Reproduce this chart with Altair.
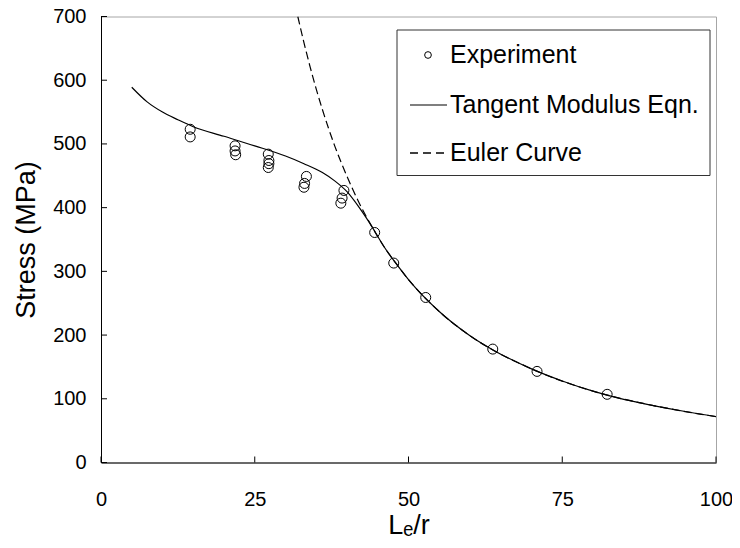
import altair as alt
import pandas as pd

# ---- data ----
exp_x = [14.5, 14.5, 21.8, 21.8, 21.9, 27.2, 27.3, 27.3, 27.2, 33.4, 33.1, 33.0,
         39.5, 39.2, 39.0, 44.5, 47.6, 52.8, 63.7, 70.9, 82.3]
exp_y = [523, 511, 497, 489, 483, 484, 474, 469, 463, 449, 438, 432,
         427, 415, 407, 361, 313, 259, 178, 143, 107]

tan_x = [5, 7.5, 10, 12.5, 15, 20, 25, 30, 33, 36, 38, 40, 42, 44, 46, 48, 50,
         55, 60, 65, 70, 75, 80, 85, 90, 95, 100]
tan_y = [589, 566, 550, 538, 527, 512, 497, 481, 469, 455, 442, 425, 400, 371,
         339, 312, 287, 237, 199, 170, 147, 128, 112, 99, 89, 80, 72]

eul_x = [32, 33, 34, 35, 36, 38, 40, 42, 44, 46, 48, 50, 55, 60, 70, 80, 90, 100]
eul_y = [700, 659, 621, 586, 554, 497, 449, 407, 371, 339, 312, 287, 237, 199,
         147, 112, 89, 72]

x_ticks = [0, 25, 50, 75, 100]
y_ticks = [0, 100, 200, 300, 400, 500, 600, 700]
legend_labels = ["Experiment", "Tangent Modulus Eqn.", "Euler Curve"]

W, H = 615, 446
FONT = "Liberation Sans"

xs = alt.Scale(domain=[0, 100], nice=False, zero=False)
ys = alt.Scale(domain=[0, 700], nice=False)

exp_df = pd.DataFrame({"x": exp_x, "y": exp_y})
tan_df = pd.DataFrame({"x": tan_x, "y": tan_y})
eul_df = pd.DataFrame({"x": eul_x, "y": eul_y})

x_axis = alt.Axis(values=x_ticks, ticks=False, grid=False, domainColor="black",
                  domainWidth=1, labelFont=FONT, labelFontSize=20, labelColor="black",
                  labelPadding=27, labelFlush=False, labelOverlap=False,
                  title="Lₑ/r", titleFont=FONT, titleFontSize=27,
                  titleFontWeight="normal", titleColor="black",
                  titleBaseline="alphabetic", titleY=71)
y_axis = alt.Axis(values=y_ticks, ticks=False, grid=False, domainColor="black",
                  domainWidth=1, labelFont=FONT, labelFontSize=20, labelColor="black",
                  labelPadding=15, labelFlush=False, labelOverlap=False,
                  title="Stress (MPa)", titleFont=FONT,
                  titleFontSize=27, titleFontWeight="normal", titleColor="black",
                  titleBaseline="middle", titleX=-75, titleY=H / 2, titleAngle=-90)

tangent = alt.Chart(tan_df).mark_line(color="black", strokeWidth=1.2,
                                      interpolate="monotone", clip=True).encode(
    x=alt.X("x:Q", scale=xs, axis=x_axis),
    y=alt.Y("y:Q", scale=ys, axis=y_axis),
)

euler = alt.Chart(eul_df).mark_line(color="black", strokeWidth=1.2,
                                    strokeDash=[8, 4], interpolate="monotone",
                                    clip=True).encode(
    x=alt.X("x:Q", scale=xs),
    y=alt.Y("y:Q", scale=ys),
)

points = alt.Chart(exp_df).mark_point(shape="circle", filled=False, color="black",
                                      size=100, strokeWidth=1, opacity=1).encode(
    x=alt.X("x:Q", scale=xs),
    y=alt.Y("y:Q", scale=ys),
)

ytick_df = pd.DataFrame({"v": y_ticks})
xtick_df = pd.DataFrame({"v": x_ticks})
yticks = alt.Chart(ytick_df).mark_rule(color="black", strokeWidth=1).encode(
    y=alt.Y("v:Q", scale=ys),
    x=alt.value(0), x2=alt.value(6),
)
xticks = alt.Chart(xtick_df).mark_rule(color="black", strokeWidth=1).encode(
    x=alt.X("v:Q", scale=xs),
    y=alt.value(H), y2=alt.value(H - 6),
)

# ---- manual legend ----
one = pd.DataFrame({"a": [0]})
box = alt.Chart(one).mark_rect(fill="white", stroke="#333333", strokeWidth=1).encode(
    x=alt.value(296), x2=alt.value(609), y=alt.value(13.5), y2=alt.value(159),
)
leg_df = pd.DataFrame({"label": legend_labels, "py": [38.5, 88.5, 136.5]})
leg_text = alt.Chart(leg_df).mark_text(align="left", baseline="middle", font=FONT,
                                       fontSize=25, color="black").encode(
    x=alt.value(349),
    y=alt.Y("py:Q", scale=None),
    text="label:N",
)
leg_pt = alt.Chart(one).mark_point(shape="circle", filled=False, color="black",
                                   size=45, strokeWidth=1, opacity=1).encode(
    x=alt.value(327), y=alt.value(38.5),
)
leg_solid = alt.Chart(one).mark_rule(color="black", strokeWidth=1.2).encode(
    x=alt.value(309), x2=alt.value(346), y=alt.value(88.5),
)
leg_dash = alt.Chart(one).mark_rule(color="black", strokeWidth=1.4,
                                    strokeDash=[8, 5]).encode(
    x=alt.value(309), x2=alt.value(347), y=alt.value(136.5),
)

chart = alt.layer(
    tangent, euler, points, yticks, xticks, box, leg_text, leg_pt, leg_solid, leg_dash
).properties(
    width=W, height=H,
    autosize=alt.AutoSizeParams(type="none"),
    padding={"left": 93, "top": 8.5, "right": 16, "bottom": 75},
    background="white",
).configure_view(stroke="#a6a6a6", strokeWidth=1)

chart.save("out.html", embed_options={"renderer": "svg", "actions": False})
